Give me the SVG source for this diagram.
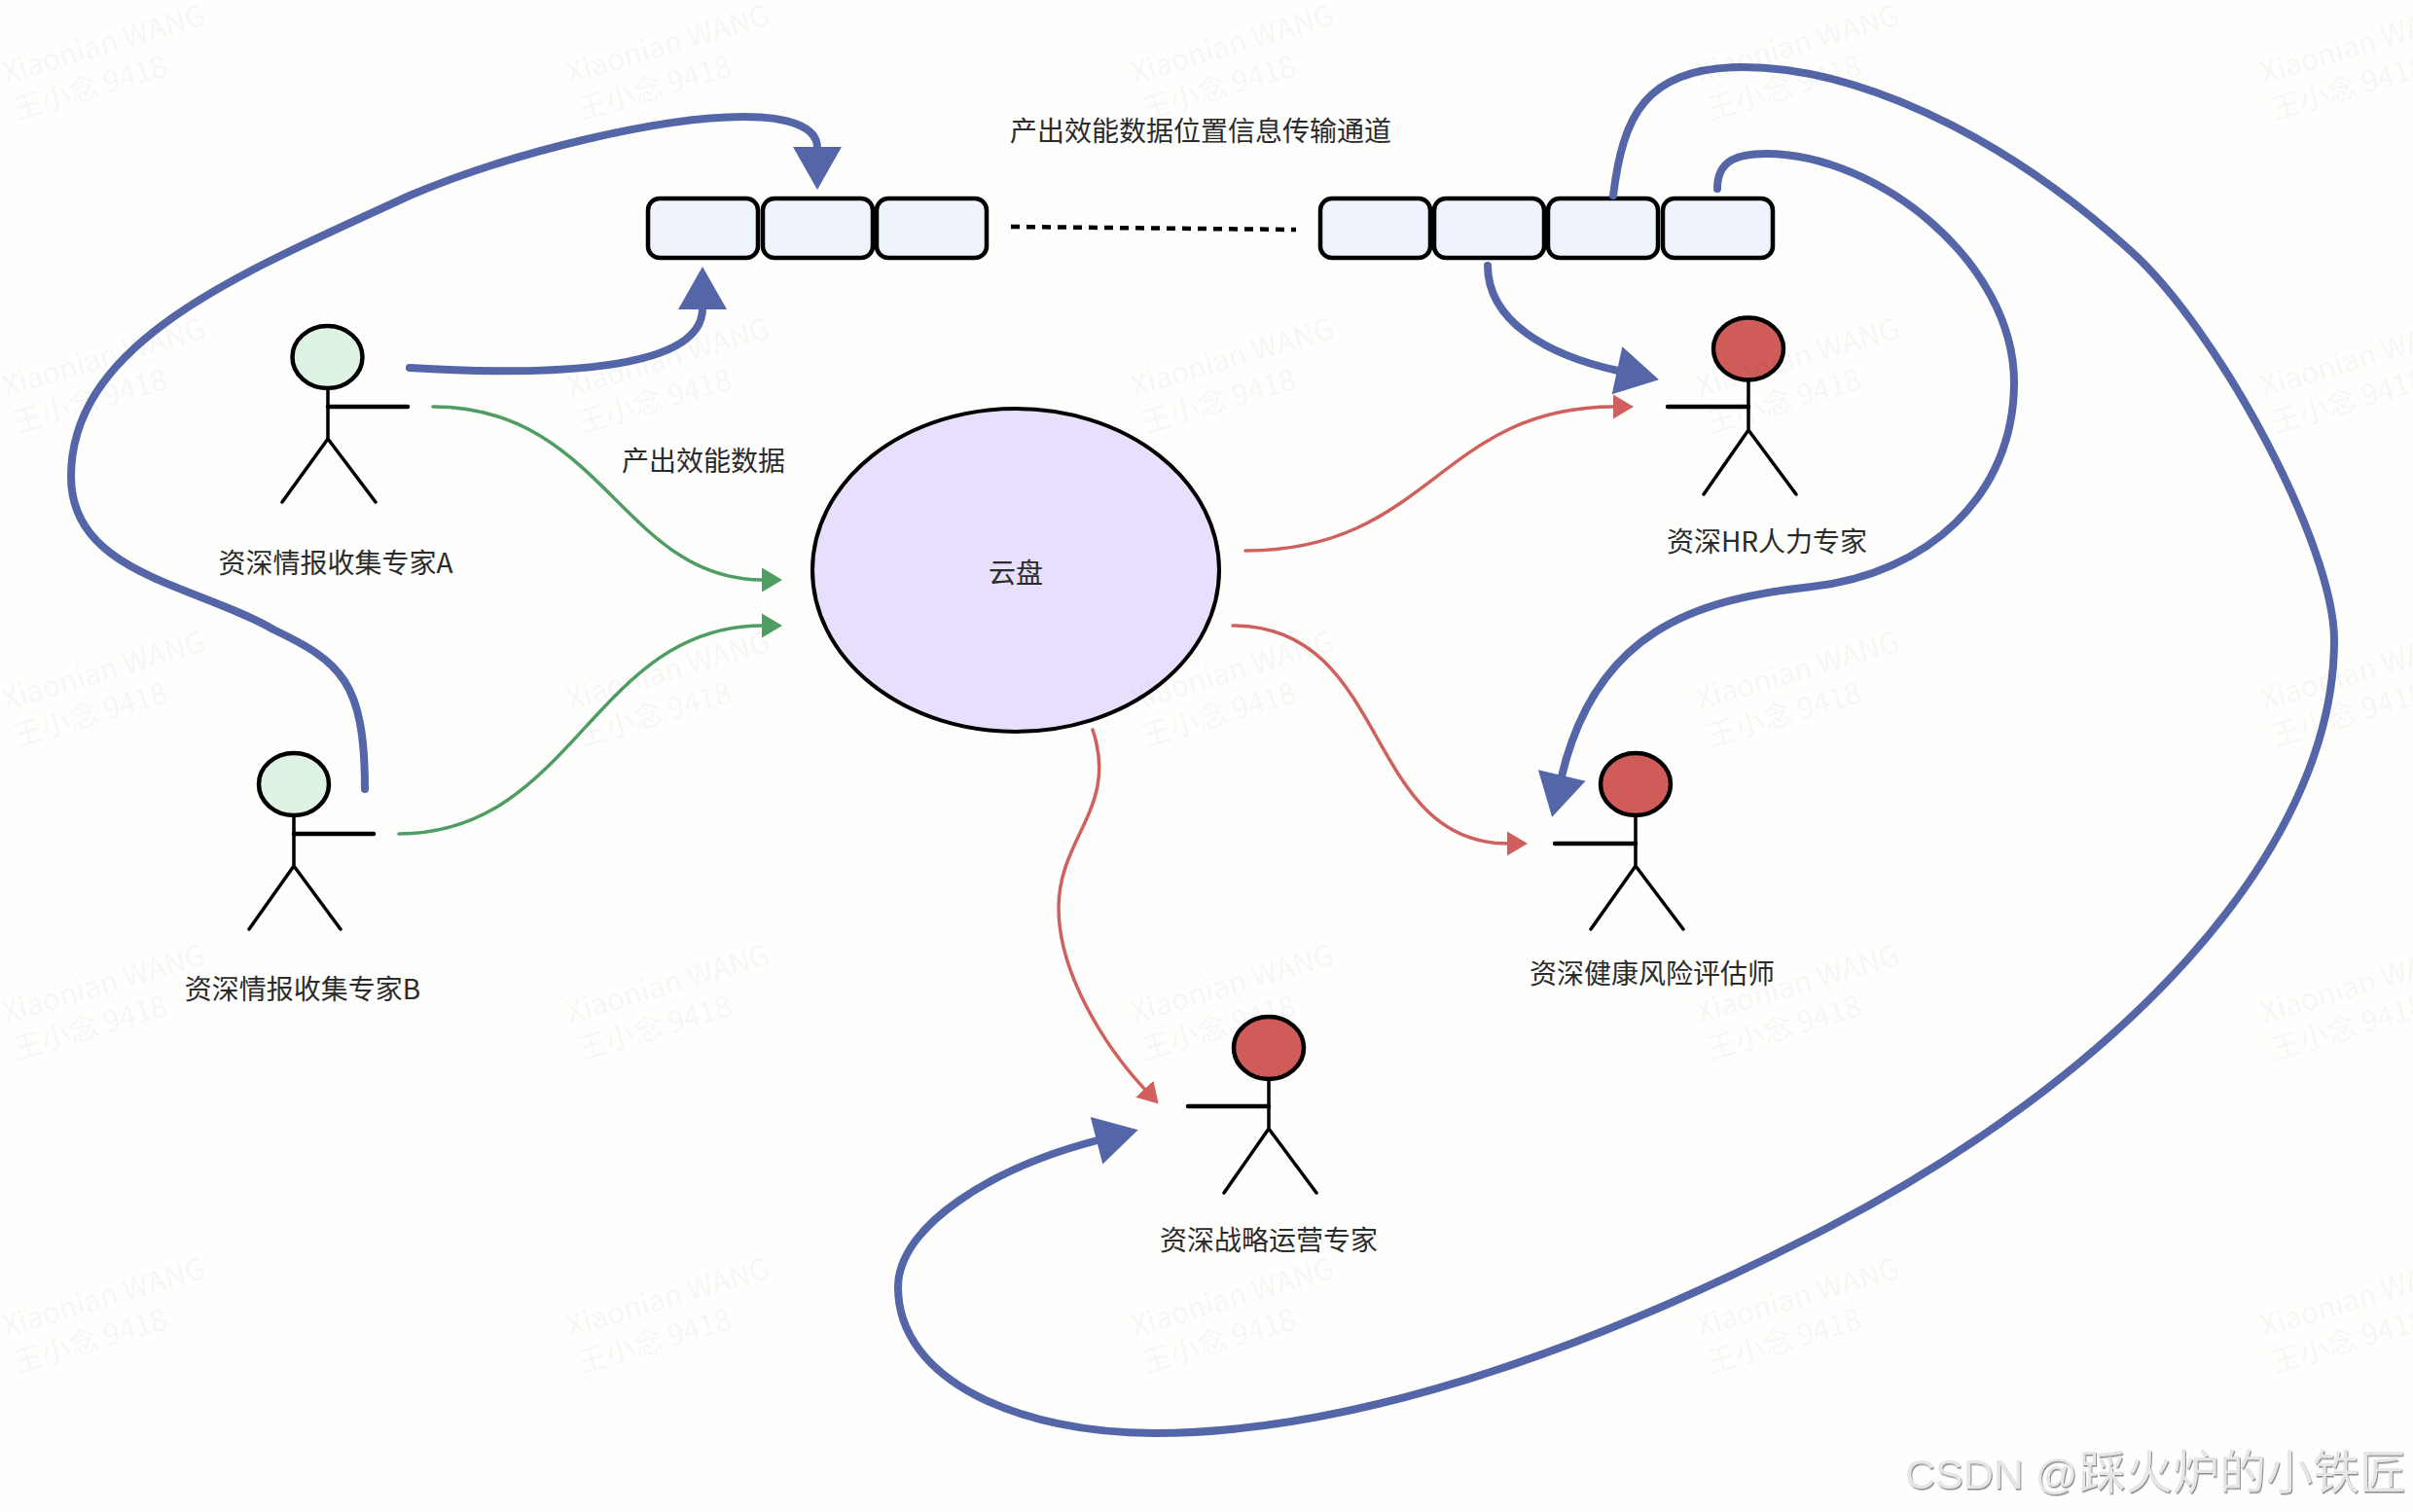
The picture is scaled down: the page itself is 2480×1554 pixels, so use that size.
<svg xmlns="http://www.w3.org/2000/svg" width="2480" height="1554" viewBox="0 0 2480 1554">
<style>
.lbl{font-family:"Noto Sans CJK SC","Noto Sans",sans-serif;font-size:28px;fill:#2b2b2b;text-anchor:middle;dominant-baseline:central}
.box{fill:#EEF3FC;stroke:#000;stroke-width:4.500}
.fig{stroke:#000;stroke-width:3.500;fill:none;stroke-linecap:round}
.arm{stroke:#000;stroke-width:4.500;fill:none;stroke-linecap:round}
.g{fill:#DFF3E4;stroke:#000;stroke-width:4.500}
.r{fill:#D05C5A;stroke:#000;stroke-width:4.500}
.blue{fill:none;stroke:#5566A8;stroke-width:8;stroke-linecap:round;marker-end:url(#mb)}
.green{fill:none;stroke:#4F9D62;stroke-width:3.500;stroke-linecap:round;marker-end:url(#mg)}
.red{fill:none;stroke:#D0605E;stroke-width:3.500;stroke-linecap:round;marker-end:url(#mr)}
.wm{font-family:"Noto Sans CJK SC","Noto Sans",sans-serif;font-size:30px;fill:#000;fill-opacity:.05}
</style>
<defs>
<marker id="mb" markerUnits="userSpaceOnUse" markerWidth="46" markerHeight="54" refX="1" refY="27" orient="auto" overflow="visible"><path d="M0 2L44 27L0 52Z" fill="#5566A8"/></marker>
<marker id="mg" markerUnits="userSpaceOnUse" markerWidth="24" markerHeight="28" refX="1" refY="14" orient="auto"><path d="M0 1.500L21 14L0 26.500Z" fill="#4F9D62"/></marker>
<marker id="mr" markerUnits="userSpaceOnUse" markerWidth="24" markerHeight="28" refX="1" refY="14" orient="auto"><path d="M0 1.500L21 14L0 26.500Z" fill="#D0605E"/></marker>
<filter id="sh" x="-5%" y="-20%" width="110%" height="140%"><feDropShadow dx="1" dy="1.500" stdDeviation=".6" flood-color="#8a8a8a"/></filter>
<g id="tile" transform="rotate(-16.500 6 86)"><text class="wm" x="6" y="86">Xiaonian WANG</text><text class="wm" x="6" y="125">王小念 9418</text></g>
</defs>
<rect width="2480" height="1554" fill="#FEFEFD"/>
<g id="queue-left">
<rect class="box" x="666" y="204" width="113" height="61" rx="12"/>
<rect class="box" x="784" y="204" width="113" height="61" rx="12"/>
<rect class="box" x="901" y="204" width="113" height="61" rx="12"/>
</g>
<g id="queue-right">
<rect class="box" x="1357" y="204" width="113" height="61" rx="12"/>
<rect class="box" x="1474" y="204" width="113" height="61" rx="12"/>
<rect class="box" x="1591" y="204" width="113" height="61" rx="12"/>
<rect class="box" x="1709" y="204" width="113" height="61" rx="12"/>
</g>
<g id="queue-title"><text class="lbl" x="1234" y="133">产出效能数据位置信息传输通道</text></g>
<g id="data-label"><text class="lbl" x="723" y="471.500">产出效能数据</text></g>
<g id="cloud"><ellipse cx="1044" cy="586" rx="209" ry="166" fill="#E8DFFC" stroke="#000" stroke-width="4"/><text class="lbl" x="1044" y="587">云盘</text></g>
<g id="actor-a"><ellipse class="g" cx="336.500" cy="367" rx="36" ry="32"/><path class="fig" d="M337 399V451M337 451L290 516M337 451L386 516"/><path class="arm" d="M337 418H419"/><text class="lbl" x="345" y="577">资深情报收集专家A</text></g>
<g id="actor-b"><ellipse class="g" cx="302" cy="806" rx="36" ry="32"/><path class="fig" d="M302 838V890M302 890L256 955M302 890L350 955"/><path class="arm" d="M302 857H384"/><text class="lbl" x="311" y="1015">资深情报收集专家B</text></g>
<g id="actor-hr"><ellipse class="r" cx="1797" cy="358.500" rx="36" ry="32"/><path class="fig" d="M1797 391V442M1797 442L1751 508M1797 442L1846 508"/><path class="arm" d="M1797 418H1714"/><text class="lbl" x="1816" y="555">资深HR人力专家</text></g>
<g id="actor-health"><ellipse class="r" cx="1681" cy="806" rx="36" ry="32"/><path class="fig" d="M1681 838V890M1681 890L1635 955M1681 890L1730 955"/><path class="arm" d="M1681 867H1598"/><text class="lbl" x="1698" y="999">资深健康风险评估师</text></g>
<g id="actor-strategy"><ellipse class="r" cx="1304" cy="1077" rx="36" ry="32"/><path class="fig" d="M1304 1109V1160M1304 1160L1258 1226M1304 1160L1353 1226"/><path class="arm" d="M1304 1137H1221"/><text class="lbl" x="1304" y="1273">资深战略运营专家</text></g>
<g id="connectors">
<path d="M1039 233L1332 236" fill="none" stroke="#000" stroke-width="4.500" stroke-dasharray="9 7"/>
<path class="green" d="M445 418C620 418 640 596 784 596"/>
<path class="green" d="M410 857C590 857 610 643 784 643"/>
<path class="red" d="M1280 566C1470 566 1480 418 1659 418"/>
<path class="red" d="M1267 643C1430 643 1400 867 1550 867"/>
<path class="red" d="M1123 750C1150 830 1088 860 1088 933C1088 1000 1135 1075 1177 1120"/>
<path class="blue" d="M421 378C520 384 722 390 722 317"/>
<path class="blue" d="M375 811C375 700 350 680 281 647C200 600 73 590 73 490C73 350 250 280 421 201C530 155 680 120 765 120C810 120 840 130 840 152"/>
<path class="blue" d="M1529 273C1529 330 1590 365 1663 381"/>
<path class="blue" d="M1658 201C1668 120 1690 69 1791 69C1900 69 2050 130 2191 259C2280 340 2399 560 2399 658C2399 880 2170 1110 1880 1261C1620 1396 1380 1473 1186 1473C1050 1473 923 1420 923 1323C923 1260 1020 1200 1128 1172"/>
<path class="blue" d="M1765 194C1765 165 1785 158 1815 158C1930 158 2070 270 2070 393C2070 510 1980 590 1862 603C1740 616 1640 650 1605 798"/>
</g>
<g id="watermarks">
<use href="#tile" x="0" y="0"/><use href="#tile" x="580" y="0"/><use href="#tile" x="1160" y="0"/><use href="#tile" x="1741" y="0"/><use href="#tile" x="2321" y="0"/>
<use href="#tile" x="0" y="322"/><use href="#tile" x="580" y="322"/><use href="#tile" x="1160" y="322"/><use href="#tile" x="1741" y="322"/><use href="#tile" x="2321" y="322"/>
<use href="#tile" x="0" y="644"/><use href="#tile" x="580" y="644"/><use href="#tile" x="1160" y="644"/><use href="#tile" x="1741" y="644"/><use href="#tile" x="2321" y="644"/>
<use href="#tile" x="0" y="966"/><use href="#tile" x="580" y="966"/><use href="#tile" x="1160" y="966"/><use href="#tile" x="1741" y="966"/><use href="#tile" x="2321" y="966"/>
<use href="#tile" x="0" y="1288"/><use href="#tile" x="580" y="1288"/><use href="#tile" x="1160" y="1288"/><use href="#tile" x="1741" y="1288"/><use href="#tile" x="2321" y="1288"/>
</g>
<text y="1530" font-family="'Liberation Sans','Noto Sans CJK SC',sans-serif" fill="#E6E6E6" filter="url(#sh)"><tspan x="1958" font-size="43">CSDN @</tspan><tspan x="2137" font-size="48" font-family="'Noto Sans CJK SC',sans-serif">踩火炉的小铁匠</tspan></text>
</svg>
